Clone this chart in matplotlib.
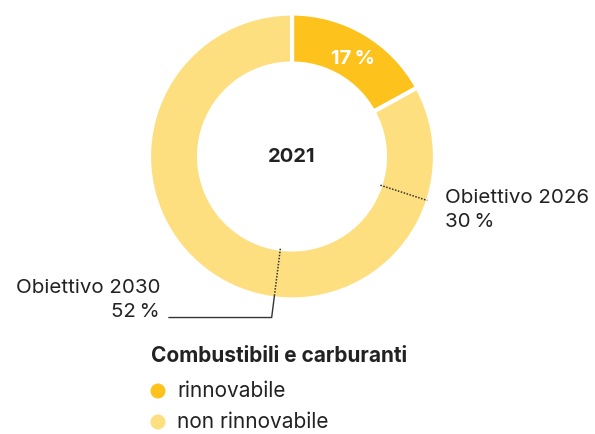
import matplotlib
matplotlib.use("Agg")
import matplotlib.pyplot as plt
import numpy as np

plt.rcParams['font.family'] = ['Inter', 'DejaVu Sans']

# Data
categories = ["rinnovabile", "non rinnovabile"]
values = [17, 83]
colors = ["#FDC31C", "#FEDF80"]
year_label = "2021"
targets = [30, 52]
target_labels = ["Obiettivo 2026", "Obiettivo 2030"]
legend_title = "Combustibili e carburanti"

W, H = 595, 434
fig = plt.figure(figsize=(W / 100, H / 100), dpi=100)

cx, cy, R = 292, 156.5, 143
ax = fig.add_axes([(cx - R) / W, (H - cy - R) / H, 2 * R / W, 2 * R / H])
ring = 0.35
wedges, _ = ax.pie(values, colors=colors, startangle=90, counterclock=False,
                   radius=1.0, wedgeprops=dict(width=ring, edgecolor="white", linewidth=3))
ax.set_xlim(-1, 1)
ax.set_ylim(-1, 1)
ax.axis("off")

# center label
ax.text(0, 0, year_label, ha="center", va="center", fontsize=14.5, fontweight="bold", color="#222222")

# percentage label on renewable wedge
mid = np.deg2rad(90 - 360 * values[0] / 100 / 2)
rmid = 1 - ring / 2
ax.text(rmid * np.cos(mid) + 0.01, rmid * np.sin(mid) - 0.03, f"{values[0]}\u2009%", ha="center", va="center",
        fontsize=14.5, fontweight="bold", color="white")

def pt(p, r):
    a = np.deg2rad(90 - 360 * p / 100)
    return r * np.cos(a), r * np.sin(a)

lab_fs = 14.8
# target 2026
x0, y0 = pt(targets[0], 1 - ring)
x1, y1 = pt(targets[0], 0.995)
ax.plot([x0, x1], [y0, y1], color="#333333", lw=1.1, ls=(0, (1, 1)), solid_capstyle="butt")
fig.text(445 / W, 1 - 198 / H, target_labels[0], ha="left", va="center", fontsize=lab_fs, color="#222222")
fig.text(445 / W, 1 - 222 / H, f"{targets[0]}\u2009%", ha="left", va="center", fontsize=lab_fs, color="#222222")

# target 2030
x0, y0 = pt(targets[1], 1 - ring)
x1, y1 = pt(targets[1], 0.985)
x2, y2 = pt(targets[1], 1.135)
ax.plot([x0, x1], [y0, y1], color="#333333", lw=1.1, ls=(0, (1, 1)), solid_capstyle="butt", clip_on=False)
ax.plot([x1, x2, -0.86], [y1, y2, y2], color="#333333", lw=1.0, clip_on=False)
fig.text(160 / W, 1 - 288 / H, target_labels[1], ha="right", va="center", fontsize=lab_fs, color="#222222")
fig.text(160 / W, 1 - 312 / H, f"{targets[1]}\u2009%", ha="right", va="center", fontsize=lab_fs, color="#222222")

# legend
fig.text(151 / W, 1 - 356 / H, legend_title, ha="left", va="center", fontsize=15, fontweight="bold", color="#222222")
for i, (lab, col) in enumerate(zip(categories, colors)):
    yy = 1 - (391 + i * 31) / H
    fig.add_artist(matplotlib.patches.Ellipse((158 / W, yy), 15 / W, 15 / H, transform=fig.transFigure,
                                              facecolor=col, edgecolor="none"))
    fig.text(177 / W, yy, lab, ha="left", va="center", fontsize=15, color="#222222")

fig.savefig("out.png", dpi=100)
